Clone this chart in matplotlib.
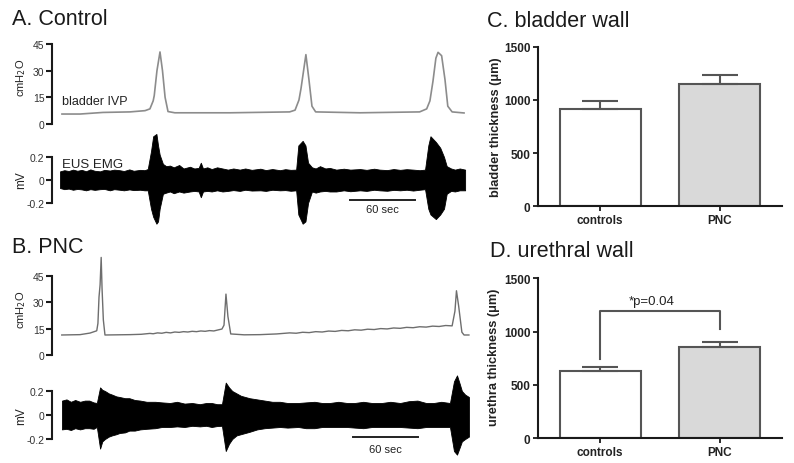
import matplotlib
matplotlib.use('Agg')
import matplotlib.pyplot as plt

plt.rcParams['font.family'] = ['Liberation Sans', 'DejaVu Sans']

W, H = 794, 464

# ---------------- data ----------------
# A. Control - bladder IVP (time s, cmH2O)
ctrl_ivp_t = [1.8, 18.5, 39.7, 64.6, 78.5, 83, 86, 87, 89.5, 92.3, 94.6, 97, 99.7, 106,
              157, 212, 217, 220.6, 222.5, 227, 229.8, 232.6, 236, 277, 332, 338.5,
              341.5, 344.3, 347, 349, 352.3, 355.4, 358, 362, 373]
ctrl_ivp_p = [5.6, 5.6, 6.5, 6.8, 7.5, 8.5, 13, 16, 30, 40.5, 30, 15, 7, 6.3,
              6.3, 6.8, 7.8, 13.5, 20, 39, 25, 10, 6.8, 6.3, 6.8, 8.5,
              13, 24, 37, 40.3, 38.4, 25, 10, 6.8, 6.2]

# A. Control - EUS EMG envelope (time s, upper mV, lower mV)
ctrl_emg_t = [0, 4, 8, 12, 16, 20, 24, 28, 32, 37, 41, 46, 50, 55, 59, 64, 68, 74, 78, 81,
              84, 86, 89, 90.5, 92, 95, 98, 101.5, 105, 110, 114, 120, 124, 128, 130, 132,
              136, 140, 145, 150, 155, 160, 166, 171, 177, 185, 190, 196, 203, 208, 213,
              218, 220, 224, 226.6, 229, 232.6, 236, 240, 245, 249, 255, 262, 268, 277,
              283, 290, 295, 302, 308, 314, 320, 326, 332, 337, 340, 342, 347, 351, 354.5,
              357, 361, 364.6, 369, 374]
ctrl_emg_hi = [0.075, 0.085, 0.078, 0.09, 0.08, 0.088, 0.076, 0.092, 0.08, 0.075, 0.088,
               0.082, 0.09, 0.085, 0.078, 0.092, 0.08, 0.088, 0.085, 0.095,
               0.25, 0.38, 0.40, 0.30, 0.22, 0.14, 0.12, 0.125, 0.11, 0.13, 0.10, 0.115,
               0.10, 0.105, 0.15, 0.10, 0.11, 0.095, 0.11, 0.10, 0.09, 0.10, 0.09, 0.10,
               0.088, 0.098, 0.086, 0.095, 0.085, 0.094, 0.088, 0.09, 0.30, 0.34, 0.30,
               0.15, 0.11, 0.10, 0.12, 0.10, 0.105, 0.09, 0.098, 0.09, 0.095, 0.088, 0.098,
               0.09, 0.086, 0.095, 0.088, 0.094, 0.09, 0.085, 0.09, 0.30, 0.38, 0.33, 0.28,
               0.20, 0.12, 0.10, 0.09, 0.10, 0.09]
ctrl_emg_lo = [-0.07, -0.08, -0.075, -0.085, -0.078, -0.082, -0.09, -0.08, -0.086, -0.08,
               -0.078, -0.09, -0.08, -0.085, -0.09, -0.082, -0.088, -0.085, -0.09, -0.09,
               -0.25, -0.32, -0.38, -0.36, -0.25, -0.12, -0.11, -0.10, -0.115, -0.10,
               -0.11, -0.10, -0.095, -0.10, -0.15, -0.10, -0.095, -0.10, -0.09, -0.10,
               -0.095, -0.088, -0.095, -0.085, -0.092, -0.09, -0.095, -0.085, -0.09,
               -0.088, -0.094, -0.09, -0.30, -0.38, -0.36, -0.20, -0.10, -0.11, -0.10,
               -0.095, -0.10, -0.10, -0.09, -0.098, -0.09, -0.095, -0.085, -0.09, -0.094,
               -0.086, -0.09, -0.085, -0.092, -0.085, -0.08, -0.25, -0.30, -0.34, -0.30,
               -0.25, -0.12, -0.095, -0.10, -0.09, -0.09]

# B. PNC - bladder IVP
pnc_ivp_t = [1.6, 18.5, 27.7, 33.9, 35, 36, 37, 38, 38.8, 40, 41.5, 64.6, 75, 83, 86, 90,
             94, 98, 102, 106, 110, 114, 118, 122, 126, 130, 134, 138, 142, 146, 149.5,
             151.4, 153.2, 155, 157.6, 170, 184.6, 200, 212, 218, 224, 230, 236, 242, 248,
             254, 260, 266, 272, 278, 284, 290, 296, 302, 308, 314, 320, 326, 332, 338,
             344, 350, 356, 362, 364.6, 366, 368, 371, 373, 377.5]
pnc_ivp_p = [11.4, 11.6, 12.5, 13.8, 18, 33, 40, 55.6, 38, 20, 11.4, 11.6, 11.8, 12.3, 12.1,
             12.6, 12.4, 12.9, 12.6, 13.1, 12.9, 13.3, 13.1, 13.5, 13.3, 13.7, 13.5, 13.9,
             13.7, 14.3, 14.8, 17, 34.7, 22, 12.0, 11.5, 11.6, 12.0, 12.6, 12.4, 12.95,
             12.75, 13.3, 13.1, 13.65, 13.45, 14.0, 13.8, 14.35, 14.15, 14.7, 14.5, 15.05,
             14.85, 15.4, 15.2, 15.75, 15.55, 16.1, 15.9, 16.45, 16.25, 16.8, 16.6, 25,
             36.6, 28, 13, 11.4, 11.4]

# B. PNC - EUS EMG envelope
pnc_emg_t = [1.8, 6, 10, 14, 18.5, 23, 27, 31, 34, 37, 39, 41.5, 45, 48, 52, 55, 60, 64, 69,
             74, 80, 88, 94, 101.5, 108, 115, 122, 129, 135, 140, 145, 149.5, 153, 156, 159,
             163, 167, 171, 175, 182, 189, 196, 203, 210, 220, 227, 235, 242, 249, 257,
             265, 272, 280, 288, 297, 305, 314, 322, 330, 338, 345, 352, 360, 363.7, 366.5,
             369, 371, 374, 377.5]
pnc_emg_hi = [0.12, 0.13, 0.11, 0.125, 0.11, 0.12, 0.12, 0.105, 0.10, 0.23, 0.21, 0.20,
              0.18, 0.17, 0.155, 0.15, 0.14, 0.14, 0.125, 0.12, 0.11, 0.11, 0.105, 0.10,
              0.11, 0.095, 0.10, 0.09, 0.10, 0.10, 0.09, 0.09, 0.27, 0.23, 0.20, 0.18, 0.16,
              0.15, 0.14, 0.13, 0.12, 0.11, 0.11, 0.10, 0.10, 0.105, 0.11, 0.10, 0.10, 0.11,
              0.10, 0.10, 0.11, 0.10, 0.10, 0.11, 0.10, 0.115, 0.12, 0.10, 0.10, 0.11, 0.10,
              0.28, 0.33, 0.26, 0.20, 0.17, 0.15]
pnc_emg_lo = [-0.12, -0.115, -0.125, -0.11, -0.12, -0.11, -0.11, -0.115, -0.10, -0.28,
              -0.22, -0.20, -0.18, -0.17, -0.16, -0.15, -0.145, -0.13, -0.13, -0.12, -0.115,
              -0.11, -0.10, -0.10, -0.095, -0.10, -0.09, -0.095, -0.09, -0.10, -0.092,
              -0.09, -0.30, -0.24, -0.20, -0.17, -0.16, -0.15, -0.14, -0.12, -0.11, -0.105,
              -0.10, -0.105, -0.10, -0.11, -0.11, -0.10, -0.10, -0.10, -0.10, -0.105,
              -0.11, -0.10, -0.10, -0.10, -0.10, -0.105, -0.11, -0.10, -0.10, -0.10, -0.10,
              -0.30, -0.33, -0.27, -0.22, -0.20, -0.18]

scalebar_sec = 60
scalebar_start = [267.7, 270.8]

# C / D bar charts
groups = ['controls', 'PNC']
bladder_mean = [912, 1150]
bladder_sem = [75, 81]
urethra_mean = [631, 853]
urethra_sem = [40, 47]
bracket_y = [743, 1196, 1025]
p_label = '*p=0.04'

# ---------------- figure ----------------
fig = plt.figure(figsize=(W / 100, H / 100), dpi=100)


def add_ax(left, top, right, bottom):
    return fig.add_axes([left / W, 1 - bottom / H, (right - left) / W, (bottom - top) / H])


XLIM = (-7.4, 378.5)
SPINE = '#1a1a1a'


def trace_axis(ax, ylim, ticks, labels, bounds):
    ax.set_xlim(*XLIM)
    ax.set_ylim(*ylim)
    for s in ['top', 'right', 'bottom']:
        ax.spines[s].set_visible(False)
    ax.spines['left'].set_bounds(*bounds)
    ax.spines['left'].set_linewidth(1.5)
    ax.spines['left'].set_color(SPINE)
    ax.set_xticks([])
    ax.set_yticks(ticks)
    ax.set_yticklabels(labels)
    ax.tick_params(axis='y', length=4, width=1.5, pad=1.5, labelsize=7.5,
                   colors=SPINE, labelcolor='#333333')
    ax.patch.set_alpha(0)


# A. IVP
axA1 = add_ax(52, 35, 470, 128)
trace_axis(axA1, (-1.69, 50.6), [0, 15, 30, 45], ['0', '15', '30', '45'], (0, 45))
axA1.plot(ctrl_ivp_t, ctrl_ivp_p, color='#8c8c8c', lw=1.2)
axA1.text(1.8, 11.2, 'bladder IVP', fontsize=9, color='#222222', va='baseline')

# A. EMG
axA2 = add_ax(52, 130, 470, 230)
trace_axis(axA2, (-0.426, 0.443), [-0.2, 0, 0.2], ['-0.2', '0', '0.2'], (-0.2, 0.2))
axA2.fill_between(ctrl_emg_t, ctrl_emg_lo, ctrl_emg_hi, color='black', lw=0.6,
                  edgecolor='black')
axA2.text(1.8, 0.113, 'EUS EMG', fontsize=9.5, color='#222222', va='baseline')
axA2.plot([scalebar_start[0], scalebar_start[0] + scalebar_sec], [-0.174, -0.174],
          color='#222222', lw=1.4)
axA2.text(scalebar_start[0] + scalebar_sec / 2, -0.255, '60 sec', fontsize=8,
          ha='center', va='center', color='#222222')

# B. IVP
axB1 = add_ax(52, 250, 470, 360)
trace_axis(axB1, (-2.28, 60.4), [0, 15, 30, 45], ['0', '15', '30', '45'], (0, 45))
axB1.plot(pnc_ivp_t, pnc_ivp_p, color='#6e6e6e', lw=1.0)

# B. EMG
axB2 = add_ax(52, 370, 470, 462)
trace_axis(axB2, (-0.383, 0.383), [-0.2, 0, 0.2], ['-0.2', '0', '0.2'], (-0.2, 0.2))
axB2.fill_between(pnc_emg_t, pnc_emg_lo, pnc_emg_hi, color='black', lw=0.6,
                  edgecolor='black')
axB2.plot([scalebar_start[1], scalebar_start[1] + scalebar_sec], [-0.186, -0.186],
          color='#222222', lw=1.4)
axB2.text(scalebar_start[1] + scalebar_sec / 2, -0.283, '60 sec', fontsize=8,
          ha='center', va='center', color='#222222')

# y labels of trace panels
fig.text(21 / W, 1 - 78 / H, 'cmH$_2$O', rotation=90, ha='center', va='center',
         fontsize=8, color='#222222')
fig.text(21 / W, 1 - 180 / H, 'mV', rotation=90, ha='center', va='center',
         fontsize=8.5, color='#222222')
fig.text(21 / W, 1 - 310 / H, 'cmH$_2$O', rotation=90, ha='center', va='center',
         fontsize=8, color='#222222')
fig.text(21 / W, 1 - 416 / H, 'mV', rotation=90, ha='center', va='center',
         fontsize=8.5, color='#222222')

# Panel titles
fig.text(12 / W, 1 - 25 / H, 'A. Control', fontsize=15.5, va='baseline', color='#1a1a1a')
fig.text(12 / W, 1 - 253.3 / H, 'B. PNC', fontsize=15.5, va='baseline', color='#1a1a1a')
fig.text(487 / W, 1 - 26.7 / H, 'C. bladder wall', fontsize=15.5, va='baseline',
         color='#1a1a1a')
fig.text(490.5 / W, 1 - 257.3 / H, 'D. urethral wall', fontsize=15.5, va='baseline',
         color='#1a1a1a')


def bar_axis(ax, means, sems, ylabel):
    x = list(range(len(groups)))
    ax.bar(x, means, width=0.675, color=['white', '#d9d9d9'], edgecolor='#555555',
           linewidth=1.5, zorder=2)
    ax.errorbar(x, means, yerr=[[0] * len(sems), sems], fmt='none', ecolor='#555555',
                elinewidth=1.5, capsize=13.3, capthick=1.5, zorder=3)
    ax.set_xlim(-0.517, 1.517)
    ax.set_ylim(0, 1500)
    ax.set_yticks([0, 500, 1000, 1500])
    ax.set_xticks(x)
    ax.set_xticklabels(groups, fontweight='bold')
    for s in ['top', 'right']:
        ax.spines[s].set_visible(False)
    for s in ['left', 'bottom']:
        ax.spines[s].set_linewidth(1.5)
        ax.spines[s].set_color(SPINE)
    ax.tick_params(axis='both', length=3.5, width=1.3, labelsize=8.5, colors=SPINE,
                   labelcolor='#222222', pad=2)
    for lab in ax.get_yticklabels():
        lab.set_fontweight('bold')
    ax.set_ylabel(ylabel, fontsize=9.2, fontweight='bold', color='#222222')
    ax.patch.set_alpha(0)


axC = add_ax(538, 47.7, 782, 207.3)
bar_axis(axC, bladder_mean, bladder_sem, 'bladder thickness (\u03bcm)')
axC.yaxis.set_label_coords(-0.149, 0.5)

axD = add_ax(538, 279.3, 782, 439.3)
bar_axis(axD, urethra_mean, urethra_sem, 'urethra thickness (\u03bcm)')
axD.yaxis.set_label_coords(-0.156, 0.51)
axD.plot([0, 0, 1, 1], [bracket_y[0], bracket_y[1], bracket_y[1], bracket_y[2]],
         color='#555555', lw=1.5, zorder=4)
axD.text(0.43, 1287, p_label, fontsize=9.5, ha='center', va='center', color='#222222')

fig.savefig('out.png', dpi=100)
